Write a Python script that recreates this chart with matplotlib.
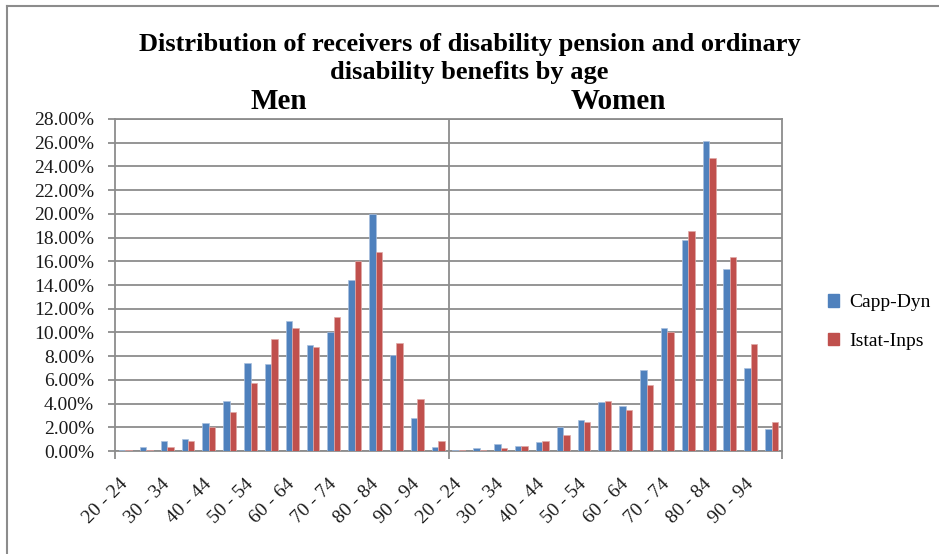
import numpy as np
import matplotlib
matplotlib.use('agg')
import matplotlib.pyplot as plt
from matplotlib.patches import Patch
from matplotlib.ticker import PercentFormatter

plt.rcParams['font.family'] = ['Liberation Serif', 'DejaVu Serif']

ages = ['20 - 24', '25 - 29', '30 - 34', '35 - 39', '40 - 44', '45 - 49',
        '50 - 54', '55 - 59', '60 - 64', '65 - 69', '70 - 74', '75 - 79',
        '80 - 84', '85 - 89', '90 - 94', '95 - 99']

# shares in percent, one value per age class
men_capp = [0.05, 0.37, 0.87, 1.01, 2.33, 4.22, 7.45, 7.31, 11.0, 8.92,
            10.04, 14.4, 20.03, 8.1, 2.78, 0.37]
men_istat = [0.05, 0.05, 0.37, 0.87, 2.0, 3.29, 5.71, 9.42, 10.35, 8.75,
             11.34, 16.0, 16.8, 9.09, 4.39, 0.87]
women_capp = [0.05, 0.22, 0.56, 0.39, 0.73, 2.0, 2.62, 4.11, 3.77, 6.83,
              10.38, 17.78, 26.16, 15.36, 7.0, 1.83]
women_istat = [0.05, 0.05, 0.22, 0.39, 0.87, 1.35, 2.48, 4.25, 3.46, 5.57,
               10.07, 18.57, 24.73, 16.34, 9.06, 2.48]

blue = '#4F81BD'
red = '#C0504D'
grid_col = '#8c8c8c'

capp = men_capp + women_capp
istat = men_istat + women_istat
x = np.arange(len(capp))
w = 0.31

fig = plt.figure(figsize=(9.39, 5.54), dpi=100)
ax = fig.add_axes([0.1225, 0.1859, 0.7103, 0.5993])

ax.bar(x - w / 2, capp, width=w, color=blue, edgecolor='#a9c0de', linewidth=0.5, zorder=3)
ax.bar(x + w / 2, istat, width=w, color=red, edgecolor='#e0a9a7', linewidth=0.5, zorder=3)

ax.set_xlim(-0.5, len(capp) - 0.5)
ax.set_ylim(0, 28)
ax.set_yticks(np.arange(0, 29, 2))
ax.yaxis.set_major_formatter(PercentFormatter(decimals=2))
ax.yaxis.grid(True, color=grid_col, linewidth=1.3, zorder=0)
ax.set_axisbelow(True)

# men / women separator
ax.axvline(len(ages) - 0.5, color=grid_col, linewidth=1.3, zorder=1)

label_pos = [i for i in x if i % 2 == 0]
ax.set_xticks(label_pos)
ax.set_xticklabels([ages[i % len(ages)] for i in label_pos], rotation=45,
                   ha='right', va='center', rotation_mode='anchor')
ax.tick_params(axis='x', length=0, pad=22, labelsize=14, labelcolor='#1a1a1a')
ax.set_xticks([-0.5, len(ages) - 0.5, len(capp) - 0.5], minor=True)
ax.tick_params(axis='x', which='minor', length=6, color=grid_col, width=1.3)
ax.tick_params(axis='y', length=5, color=grid_col, width=1.3, labelsize=14,
               labelcolor='#1a1a1a', pad=10)

for s in ax.spines.values():
    s.set_color(grid_col)
    s.set_linewidth(1.3)

fig.text(0.5, 1 - 45 / 554, 'Distribution of receivers of disability pension and ordinary',
         ha='center', va='center', fontsize=19, fontweight='bold')
fig.text(0.5, 1 - 72 / 554, 'disability benefits by age',
         ha='center', va='center', fontsize=19, fontweight='bold')
ax.text(0.245, 1.052, 'Men', transform=ax.transAxes, ha='center', va='center',
        fontsize=21, fontweight='bold')
ax.text(0.755, 1.052, 'Women', transform=ax.transAxes, ha='center', va='center',
        fontsize=21, fontweight='bold')

handles = [Patch(color=blue, label='Capp-Dyn'), Patch(color=red, label='Istat-Inps')]
fig.legend(handles=handles, loc='center left', bbox_to_anchor=(810 / 939, 1 - 322 / 554),
           frameon=False, fontsize=14, handlelength=0.6, handleheight=0.6,
           handletextpad=0.5, labelspacing=1.1)

# chart area border (top and left edges)
fig.add_artist(plt.Line2D([7 / 939, 7 / 939], [0, 1 - 6 / 554], transform=fig.transFigure,
                          color=grid_col, linewidth=1.5))
fig.add_artist(plt.Line2D([7 / 939, 1], [1 - 6 / 554, 1 - 6 / 554], transform=fig.transFigure,
                          color=grid_col, linewidth=1.5))

fig.savefig('out.png', dpi=100)
